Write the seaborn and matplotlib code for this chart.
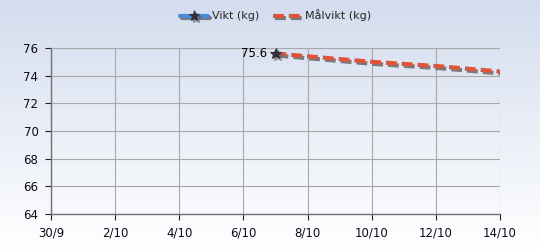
import numpy as np
import pandas as pd
import matplotlib
matplotlib.use("Agg")
import matplotlib.pyplot as plt
import matplotlib.dates as mdates
import matplotlib.patheffects as pe
from matplotlib.colors import LinearSegmentedColormap
import seaborn as sns

# Data
vikt_dates = ["2023-10-07"]
vikt_values = [75.6]
mal_dates = ["2023-10-07", "2023-10-08", "2023-10-09", "2023-10-10",
             "2023-10-11", "2023-10-12", "2023-10-13", "2023-10-14"]
mal_values = [75.6, 75.4, 75.2, 75.0, 74.85, 74.7, 74.5, 74.3]
x_ticks = ["2023-09-30", "2023-10-02", "2023-10-04", "2023-10-06", "2023-10-08",
           "2023-10-10", "2023-10-12", "2023-10-14"]
x_labels = ["30/9", "2/10", "4/10", "6/10", "8/10", "10/10", "12/10", "14/10"]
y_ticks = [64, 66, 68, 70, 72, 74, 76]

sns.set_theme(style="white")
plt.rcParams['font.family'] = ['DejaVu Sans']

df_v = pd.DataFrame({"date": pd.to_datetime(vikt_dates), "value": vikt_values})
df_m = pd.DataFrame({"date": pd.to_datetime(mal_dates), "value": mal_values})

fig = plt.figure(figsize=(5.4, 2.5), dpi=100)
bg = fig.add_axes([0, 0, 1, 1], zorder=-10)
grad = np.linspace(0, 1, 256).reshape(-1, 1)
cmap = LinearSegmentedColormap.from_list("g", ["#d3ddee", "#ffffff"])
bg.imshow(grad, aspect="auto", cmap=cmap, extent=[0, 1, 0, 1])
bg.set_axis_off()

ax = fig.add_axes([51/540, 1 - 214/250, (500-51)/540, (214-48)/250])
ax.patch.set_alpha(0)

shadow = [pe.SimpleLineShadow(offset=(1.5, -1.5), shadow_color="#606060", alpha=0.8), pe.Normal()]
sns.lineplot(data=df_m, x="date", y="value", ax=ax, color="#e0533a", lw=3,
             linestyle=(0, (2.6, 1.2)), label="Målvikt (kg)", path_effects=shadow, zorder=3)
sns.lineplot(data=df_v, x="date", y="value", ax=ax, color="#4a88d8", lw=3,
             marker="*", markersize=8, markerfacecolor="#303040", markeredgecolor="#303040",
             label="Vikt (kg)", path_effects=shadow, zorder=4)
for d, v in zip(df_v["date"], df_v["value"]):
    ax.annotate(f"{v:.1f}", (mdates.date2num(d), v), xytext=(-6, 0),
                textcoords="offset points", ha="right", va="center",
                fontsize=8.5, color="#000000")

ax.set_xlim(pd.Timestamp(x_ticks[0]), pd.Timestamp(x_ticks[-1]))
ax.set_ylim(64, 76)
ax.set_xticks(pd.to_datetime(x_ticks))
ax.set_xticklabels(x_labels)
ax.set_yticks(y_ticks)
ax.set_xlabel("")
ax.set_ylabel("")
ax.grid(True, color="#a8a8a8", lw=0.8)
for s in ["top", "right"]:
    ax.spines[s].set_visible(False)
for s in ["left", "bottom"]:
    ax.spines[s].set_color("#707070")
    ax.spines[s].set_linewidth(1)
ax.tick_params(axis="both", direction="out", length=4, width=0.8, color="#202020",
               labelsize=8.5, labelcolor="#100818", bottom=True, left=True, pad=5)

h, l = ax.get_legend_handles_labels()
order = [l.index("Vikt (kg)"), l.index("Målvikt (kg)")]
leg = ax.legend([h[i] for i in order], [l[i] for i in order], loc="lower center",
                bbox_to_anchor=(0.5, 1.1), ncol=2, frameon=False, fontsize=8,
                handlelength=2.5, columnspacing=1.2, handletextpad=0.4)

fig.savefig("out.png", dpi=100)
